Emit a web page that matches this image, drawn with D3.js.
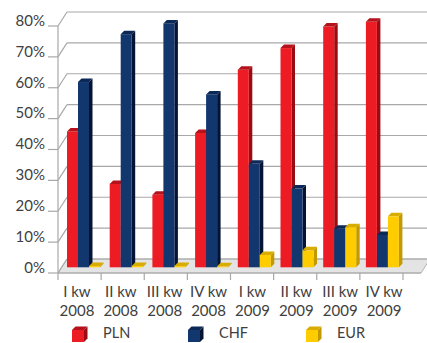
<!DOCTYPE html>
<html>
<head>
<meta charset="utf-8">
<script src="https://cdn.jsdelivr.net/npm/d3@7/dist/d3.min.js"></script>
<style>
  html, body { margin: 0; padding: 0; background: #fff; }
  svg { display: block; }
  text { font-family: Lato, "Open Sans", sans-serif; fill: #404040; }
</style>
</head>
<body>
<svg id="chart" width="427" height="343"></svg>
<script>
// Quarters (two-line labels)
const categories = ["I kw 2008", "II kw 2008", "III kw 2008", "IV kw 2008",
                    "I kw 2009", "II kw 2009", "III kw 2009", "IV kw 2009"];
const series = ["PLN", "CHF", "EUR"];
const plnValues = [44, 27, 23.5, 43.5, 64, 71, 78, 79.5];
const chfValues = [60, 75.5, 79, 56, 33.5, 25.5, 12.5, 10.5];
const eurValues = [0.4, 0.4, 0.4, 0.3, 4, 5.5, 13, 16.5];
const yTicks = [0, 10, 20, 30, 40, 50, 60, 70, 80];

const colors = {
  PLN: { front: "#ED1C24", top: "#B5121B", side: "#9A0B12" },
  CHF: { front: "#12366E", top: "#0C2857", side: "#061434" },
  EUR: { front: "#FFCC00", top: "#D8AC00", side: "#C29900" }
};
const valuesBySeries = { PLN: plnValues, CHF: chfValues, EUR: eurValues };

const svg = d3.select("#chart");

// Projection of the 3D box: front plane, bar plane, back wall
const wallDx = 9, wallDy = -14;      // depth of walls
const barPlaneDy = -5.7;             // bars stand midway in depth
const barDx = 3.5, barDy = -3.5;     // depth of each column

const yFront = d3.scaleLinear().domain([0, 80]).range([273, 26]);
const yBar = v => yFront(v) + barPlaneDy;
const xFront = d3.scaleBand().domain(categories).range([58, 403]);
const xBar = d3.scaleBand().domain(categories).range([62, 403.6]);
const xSeries = d3.scaleBand().domain(series).range([5, 38]);
const xLabel = d3.scaleBand().domain(categories).range([55, 406]);
const floorRight = 421;

// Floor
const f0 = yFront(0);
svg.append("polygon")
  .attr("points", [[58, f0], [floorRight, f0], [floorRight + wallDx, f0 + wallDy], [58 + wallDx, f0 + wallDy]].join(" "))
  .attr("fill", "#E4E4E4")
  .attr("stroke", "#B4B4B4")
  .attr("stroke-width", 1);

// Back-wall gridlines and side-wall diagonals
const grid = svg.append("g");
yTicks.forEach(v => {
  const yf = yFront(v);
  grid.append("line")
    .attr("x1", 58 + wallDx).attr("x2", 440)
    .attr("y1", yf + wallDy).attr("y2", yf + wallDy)
    .attr("stroke", "#A8A8A8").attr("stroke-width", 1.2);
  grid.append("line")
    .attr("x1", 58).attr("y1", yf)
    .attr("x2", 58 + wallDx).attr("y2", yf + wallDy)
    .attr("stroke", "#A8A8A8").attr("stroke-width", 1.2);
  grid.append("line")
    .attr("x1", 48).attr("x2", 58)
    .attr("y1", yf).attr("y2", yf)
    .attr("stroke", "#A8A8A8").attr("stroke-width", 1.2);
});
// Value axis line
svg.append("line")
  .attr("x1", 58).attr("x2", 58)
  .attr("y1", yFront(80)).attr("y2", yFront(0))
  .attr("stroke", "#A8A8A8").attr("stroke-width", 1.2);

// Value axis labels
svg.append("g").selectAll("text")
  .data(yTicks)
  .join("text")
  .attr("x", 45)
  .attr("y", d => yFront(d) - 4)
  .attr("text-anchor", "end")
  .attr("dominant-baseline", "middle")
  .attr("font-size", 15)
  .text(d => d + "%");

// Category axis: front edge and ticks
svg.append("line")
  .attr("x1", 58).attr("x2", floorRight)
  .attr("y1", f0).attr("y2", f0)
  .attr("stroke", "#A8A8A8").attr("stroke-width", 1.2);
const tickXs = categories.map(c => xFront(c)).concat([xFront.range()[1]]);
svg.append("g").selectAll("line")
  .data(tickXs)
  .join("line")
  .attr("x1", d => d).attr("x2", d => d)
  .attr("y1", f0).attr("y2", f0 + 7)
  .attr("stroke", "#A8A8A8").attr("stroke-width", 1.2);

// Category labels (two lines)
const catLabels = svg.append("g").selectAll("text")
  .data(categories)
  .join("text")
  .attr("text-anchor", "middle")
  .attr("font-size", 15);
catLabels.each(function (d) {
  const parts = d.split(" ");
  const cx = xLabel(d) + xLabel.bandwidth() / 2;
  const t = d3.select(this);
  t.append("tspan").attr("x", cx).attr("y", 297).text(parts[0] + " " + parts[1]);
  t.append("tspan").attr("x", cx).attr("y", 316).text(parts[2]);
});

// 3D column drawing
function drawColumn(g, x, w, yTop, yBase, c) {
  g.append("polygon")
    .attr("points", [[x + w, yTop], [x + w + barDx, yTop + barDy], [x + w + barDx, yBase + barDy], [x + w, yBase]].join(" "))
    .attr("fill", c.side);
  g.append("rect")
    .attr("x", x).attr("y", yTop)
    .attr("width", w).attr("height", Math.max(0, yBase - yTop))
    .attr("fill", c.front);
  g.append("polygon")
    .attr("points", [[x, yTop], [x + barDx, yTop + barDy], [x + w + barDx, yTop + barDy], [x + w, yTop]].join(" "))
    .attr("fill", c.top);
}

const bars = svg.append("g");
categories.forEach((cat, i) => {
  series.forEach(s => {
    const v = valuesBySeries[s][i];
    const x = xBar(cat) + xSeries(s);
    drawColumn(bars, x, xSeries.bandwidth(), yBar(v), yBar(0), colors[s]);
  });
});

// Legend
const legendX = { PLN: 72, CHF: 188, EUR: 306 };
const legend = svg.append("g");
series.forEach(s => {
  const x = legendX[s];
  drawColumn(legend, x, 12, 330, 342, colors[s]);
  legend.append("text")
    .attr("x", x + 31)
    .attr("y", 334)
    .attr("dominant-baseline", "middle")
    .attr("font-size", 14.5)
    .text(s);
});
</script>
</body>
</html>
